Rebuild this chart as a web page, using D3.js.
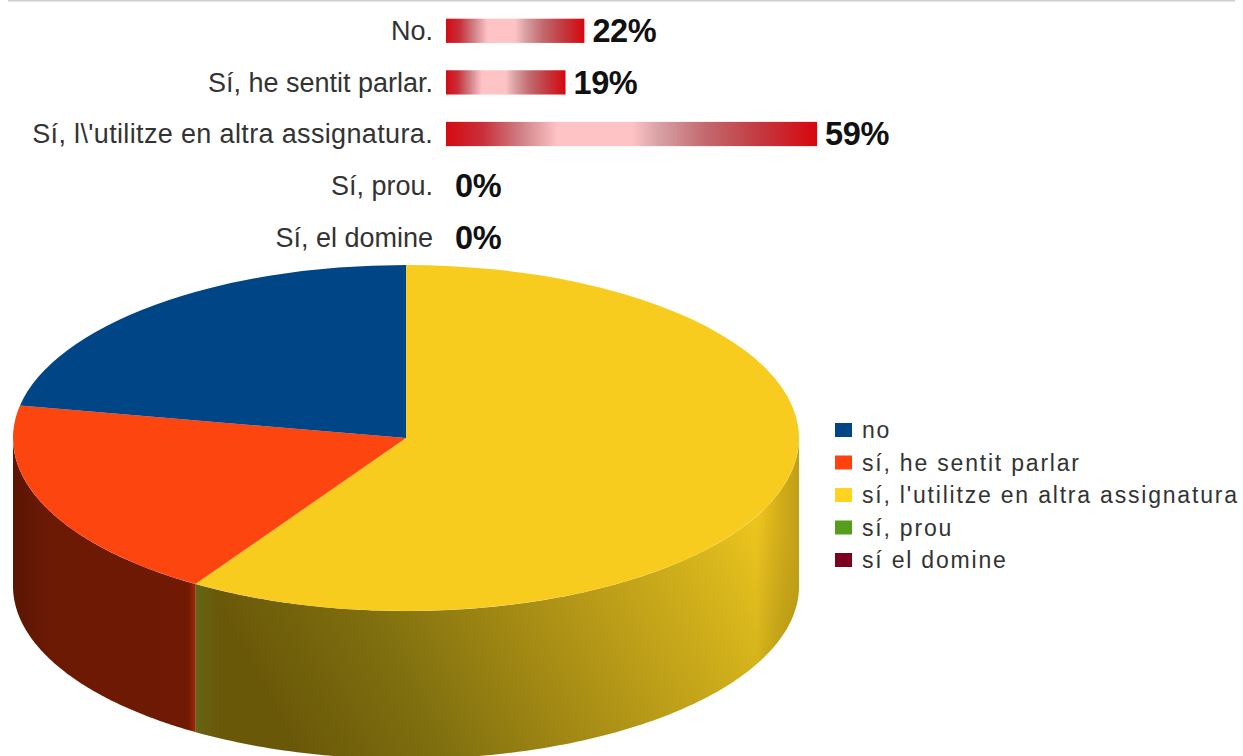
<!DOCTYPE html>
<html>
<head>
<meta charset="utf-8">
<script src="https://cdn.jsdelivr.net/npm/d3@7"></script>
<style>
html,body{margin:0;padding:0;background:#fff;overflow:hidden}
text{font-family:"Liberation Sans",Arial,sans-serif}
</style>
</head>
<body>
<div id="chart"></div>
<script>
const barLabels = ["No.", "Sí, he sentit parlar.", "Sí, l\\'utilitze en altra assignatura.", "Sí, prou.", "Sí, el domine"];
const barPercents = [22, 19, 59, 0, 0];
const legendLabels = ["no", "sí, he sentit parlar", "sí, l'utilitze en altra assignatura", "sí, prou", "sí el domine"];
const legendColors = ["#004586", "#ff420e", "#ffd320", "#579d1c", "#7e0021"];
const pieTopColors = ["#004586", "#fc450f", "#f8cc1e", "#579d1c", "#7e0021"];

const W = 1243, H = 756;
const svg = d3.select("#chart").append("svg").attr("width", W).attr("height", H);
const defs = svg.append("defs");

svg.append("line").attr("x1", 8).attr("x2", 1235).attr("y1", 0.5).attr("y2", 0.5)
   .attr("stroke", "#cfcfcf").attr("stroke-width", 2);

// Bars
const x = d3.scaleLinear().domain([0, 100]).range([446, 1075]);
const y = d3.scaleBand().domain(barLabels).range([5, 263]).paddingInner(0.53).paddingOuter(0.265);
const barGrad = defs.append("linearGradient").attr("id", "barGrad");
[[0,"#d40a12"],[0.1,"#c8303a"],[0.2,"#cf7f84"],[0.3,"#fec3c5"],[0.5,"#fec3c5"],[0.57,"#d9a3a6"],[0.7,"#c2696e"],[0.85,"#c3383e"],[1,"#d8060e"]]
  .forEach(([o,c]) => barGrad.append("stop").attr("offset", o).attr("stop-color", c));

const rows = svg.append("g").selectAll("g").data(barLabels).join("g");
const rowMid = d => y(d) + y.bandwidth() / 2;
rows.append("rect")
  .attr("x", x(0)).attr("y", d => y(d))
  .attr("width", (d, i) => x(barPercents[i]) - x(0))
  .attr("height", y.bandwidth())
  .attr("fill", "url(#barGrad)");
rows.append("text")
  .attr("x", 433).attr("y", rowMid).attr("dy", "0.35em")
  .attr("text-anchor", "end").attr("fill", "#333")
  .style("font-size", "27px")
  .style("letter-spacing", (d, i) => i === 2 ? "0.35px" : null)
  .text(d => d);
rows.append("text")
  .attr("x", (d, i) => x(barPercents[i]) + (barPercents[i] ? 8 : 9))
  .attr("y", rowMid).attr("dy", "0.35em")
  .attr("fill", "#111").style("font-size", "32.5px").style("font-weight", "bold")
  .style("letter-spacing", "-0.4px")
  .text((d, i) => barPercents[i] + "%");

// Pie
const cx = 406, cy = 438, rx = 393, ry = 173, depth = 148;
const pieGen = d3.pie().sort(null).value(d => d);
const pieOrder = [2, 1, 0];
const slices = pieGen(pieOrder.map(i => barPercents[i]));
const sliceColor = k => pieTopColors[pieOrder[k]];

const wallGrads = [
  {id: "wallYellow", x1: 300, y1: 760, x2: 770, y2: 510,
   stops: [[0,"#6a5809"],[0.25,"#80700f"],[0.48,"#a48a14"],[0.68,"#c0a119"],[0.86,"#d8b61c"],[1,"#f4c91f"]]},
  {id: "wallOrange", x1: 13, y1: 600, x2: 196, y2: 600,
   stops: [[0,"#5a1604"],[0.2,"#6c1904"],[0.96,"#701a04"],[1,"#a82a08"]]}
];
wallGrads.forEach(g => {
  const lg = defs.append("linearGradient").attr("id", g.id).attr("gradientUnits", "userSpaceOnUse")
    .attr("x1", g.x1).attr("y1", g.y1).attr("x2", g.x2).attr("y2", g.y2);
  g.stops.forEach(([o,c]) => lg.append("stop").attr("offset", o).attr("stop-color", c));
});
const edgeShade = defs.append("linearGradient").attr("id", "edgeShade").attr("gradientUnits", "userSpaceOnUse")
  .attr("x1", 196).attr("x2", 799).attr("y1", 0).attr("y2", 0);
[[0,"#5f6a1a",0.75],[0.04,"#6a6414",0],[0.93,"#000",0],[1,"#4a3c00",0.3]]
  .forEach(([o,c,a]) => edgeShade.append("stop").attr("offset", o).attr("stop-color", c).attr("stop-opacity", a));

const px = a => cx + rx * Math.sin(a), py = a => cy - ry * Math.cos(a);
const walls = svg.append("g");
slices.forEach((s, k) => {
  const a0 = Math.max(s.startAngle, Math.PI / 2);
  const a1 = Math.min(s.endAngle, 1.5 * Math.PI);
  if (a1 <= a0) return;
  const angles = d3.range(0, 121).map(i => a0 + (a1 - a0) * i / 120);
  const area = d3.area().x(px).y0(py).y1(a => py(a) + depth);
  walls.append("path").attr("d", area(angles))
    .attr("fill", k === 0 ? "url(#wallYellow)" : "url(#wallOrange)");
  if (k === 0) walls.append("path").attr("d", area(angles)).attr("fill", "url(#edgeShade)");
});

const arc = d3.arc().innerRadius(0).outerRadius(rx);
svg.append("g")
  .attr("transform", `translate(${cx},${cy}) scale(1,${ry / rx})`)
  .selectAll("path").data(slices).join("path")
  .attr("d", arc)
  .attr("fill", (d, k) => sliceColor(k));

// Legend
const legendY = d3.scalePoint().domain(legendLabels).range([430, 560]);
const leg = svg.append("g").selectAll("g").data(legendLabels).join("g")
  .attr("transform", d => `translate(835,${legendY(d)})`);
leg.append("rect").attr("x", 0).attr("y", -7).attr("width", 17).attr("height", 14)
  .attr("fill", (d, i) => legendColors[i]);
leg.append("text").attr("x", 27).attr("dy", "0.35em").attr("fill", "#333")
  .style("font-size", "23px").style("letter-spacing", "1.8px")
  .text(d => d);
</script>
</body>
</html>
